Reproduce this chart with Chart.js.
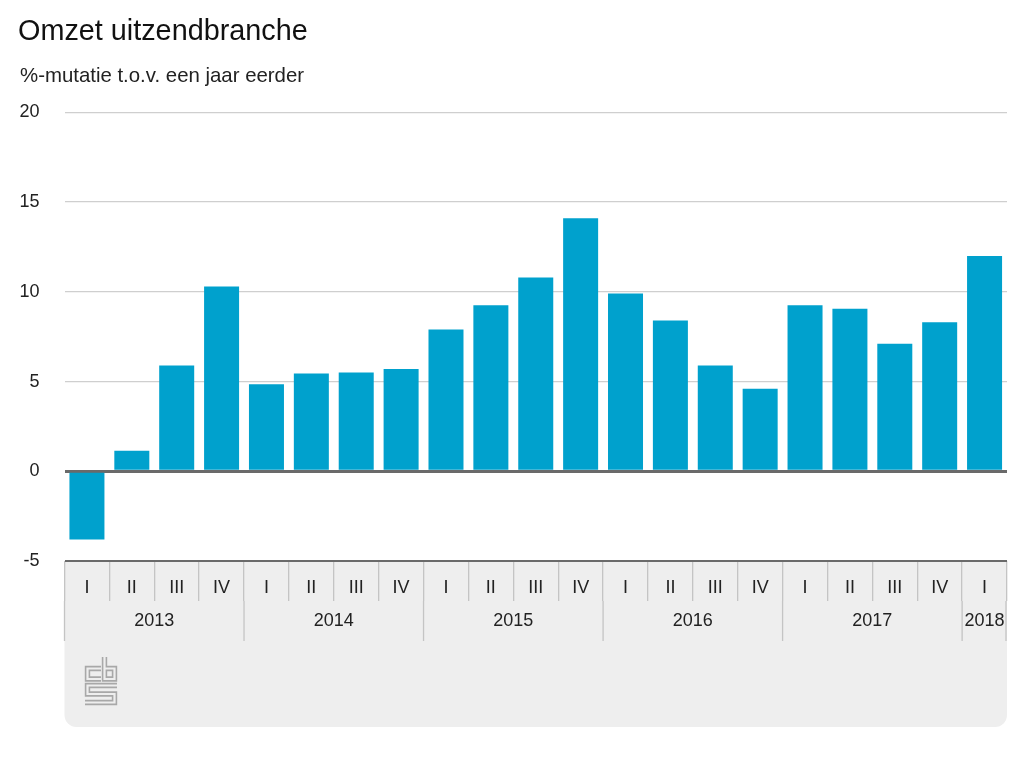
<!DOCTYPE html>
<html>
<head>
<meta charset="utf-8">
<title>Omzet uitzendbranche</title>
<script src="https://cdn.jsdelivr.net/npm/chart.js@4"></script>
<style>
html,body{margin:0;padding:0;background:#fff;overflow:hidden}
#wrap{position:relative;width:1024px;height:768px}
</style>
</head>
<body>
<div id="wrap"><canvas id="myChart" width="1024" height="768"></canvas></div>
<script>
const quarters=['I','II','III','IV','I','II','III','IV','I','II','III','IV','I','II','III','IV','I','II','III','IV','I'];
const omzet=[-3.8,1.15,5.9,10.3,4.85,5.45,5.5,5.7,7.9,9.25,10.8,14.1,9.9,8.4,5.9,4.6,9.25,9.05,7.1,8.3,12.0];
const years=['2013','2014','2015','2016','2017','2018'];
const yearQuarters=[4,4,4,4,4,1];
const subtitleText='%-mutatie t.o.v. een jaar eerder';
const font='"Liberation Sans", Arial, sans-serif';

function snake(c,pts){
    c.beginPath();
    pts.forEach((p,i)=>i?c.lineTo(p[0],p[1]):c.moveTo(p[0],p[1]));
    c.stroke();
}

// grey panel under the plot, year labels and the cbs logo
const panel={
    id:'panel',
    afterLayout(chart){
        // subtitle sits a little right of the title
        let box=chart.boxes.find(b=>b.options && b.options.text===subtitleText);
        if(box) box.left=20;
    },
    beforeDraw(chart){
        let c=chart.ctx, a=chart.chartArea;
        c.save();
        c.fillStyle='#eeeeee';
        c.beginPath();
        c.roundRect(a.left,a.bottom,a.right-a.left,727-a.bottom,[0,0,12,12]);
        c.fill();
        c.restore();
    },
    afterDraw(chart){
        let c=chart.ctx, x=chart.scales.x;
        let step=x.getPixelForValue(1)-x.getPixelForValue(0);
        c.save();
        c.font='18px '+font;
        c.fillStyle='#222';
        c.textAlign='center';
        c.textBaseline='middle';
        c.strokeStyle='#c4c4c4';
        c.lineWidth=1.3;
        let idx=0;
        years.forEach((y,i)=>{
            let left=x.getPixelForValue(idx)-step/2;
            let right=left+step*yearQuarters[i];
            c.beginPath();
            c.moveTo(left,601);c.lineTo(left,641);
            if(i==years.length-1){c.moveTo(right-1,601);c.lineTo(right-1,641);}
            c.stroke();
            c.fillText(y,(left+right)/2,621);
            idx+=yearQuarters[i];
        });
        // logo: a wide grey band with a thin panel coloured band on top gives the outlined look
        let parts=[
            [[101,668.5],[87.5,668.5],[87.5,679],[101,679]],
            [[104.5,657],[104.5,679],[114.5,679],[114.5,668.5],[104.5,668.5]],
            [[117,685.5],[87.5,685.5],[87.5,694],[114.5,694],[114.5,702.5],[85,702.5]]
        ];
        c.strokeStyle='#a8a8a8';
        c.lineWidth=5.4;
        parts.forEach(p=>snake(c,p));
        c.strokeStyle='#eeeeee';
        c.lineWidth=2.2;
        parts.forEach(p=>snake(c,p));
        c.restore();
    }
};

const ctx=document.getElementById('myChart').getContext('2d');
const myChart=new Chart(ctx,{
    type:'bar',
    data:{
        labels:quarters,
        datasets:[{
            data:omzet,
            backgroundColor:'#00a1cd',
            barPercentage:0.78,
            categoryPercentage:1
        }]
    },
    plugins:[panel],
    options:{
        responsive:false,
        animation:false,
        layout:{padding:{left:18,right:17,top:15,bottom:0}},
        plugins:{
            legend:{display:false},
            tooltip:{enabled:false},
            title:{
                display:true,
                text:'Omzet uitzendbranche',
                align:'start',
                color:'#111',
                font:{family:font,size:28.8,weight:'normal'},
                padding:{top:0,bottom:15}
            },
            subtitle:{
                display:true,
                text:subtitleText,
                align:'start',
                color:'#222',
                font:{family:font,size:20.4,weight:'normal'},
                padding:{top:0,bottom:23.3}
            }
        },
        scales:{
            x:{
                afterFit(s){s.height=207},
                grid:{
                    offset:true,
                    drawOnChartArea:false,
                    color:'#c4c4c4',
                    lineWidth:1.3,
                    tickLength:40
                },
                border:{display:false},
                ticks:{
                    color:'#222',
                    font:{family:font,size:18},
                    padding:-24,
                    maxRotation:0,
                    autoSkip:false
                }
            },
            y:{
                min:-5,
                max:20,
                afterFit(s){s.width=46.5},
                grid:{
                    drawTicks:false,
                    color:c=>(c.tick.value==0||c.tick.value==-5)?'#6a6a6a':'#cfcfcf',
                    lineWidth:c=>c.tick.value==0?3:(c.tick.value==-5?2:1.3)
                },
                border:{display:false},
                ticks:{
                    stepSize:5,
                    color:'#222',
                    padding:25,
                    font:{family:font,size:18}
                }
            }
        }
    }
});
</script>
</body>
</html>
